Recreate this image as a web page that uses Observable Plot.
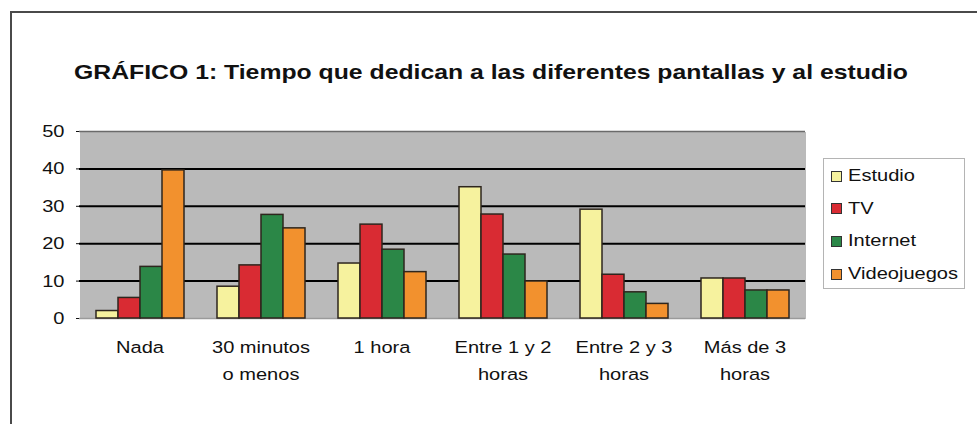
<!DOCTYPE html>
<html>
<head>
<meta charset="utf-8">
<script src="https://cdn.jsdelivr.net/npm/d3@7"></script>
<script src="https://cdn.jsdelivr.net/npm/@observablehq/plot@0.6"></script>
<style>
  html, body { margin: 0; padding: 0; background: #fff; overflow: hidden; }
  body { width: 977px; height: 424px; position: relative; font-family: "Liberation Sans", Arial, sans-serif; }
  #border { position: absolute; left: 10px; top: 11px; width: 1100px; height: 600px;
            border-left: 2px solid #4a4a4a; border-top: 2px solid #4a4a4a; }
  #chart { position: absolute; left: 0; top: 0; }
  #title { position: absolute; left: 491px; top: 72px; white-space: nowrap;
           font: bold 21px "Liberation Sans", Arial, sans-serif; color: #111;
           transform: translate(-50%, -50%) scaleX(1.18); }
  #legend { position: absolute; left: 823px; top: 158px; width: 140px; height: 129px;
            border: 1px solid #b4b4b4; background: #fff; }
  .item { position: absolute; left: 7px; height: 20px; display: flex; align-items: center; }
  .sw { width: 9px; height: 9px; border: 1px solid #333; margin-right: 6px; }
  .lab { font-size: 17px; color: #111; transform: scaleX(1.18); transform-origin: left center; white-space: nowrap; }
</style>
</head>
<body>
<div id="border"></div>
<div id="chart"></div>
<div id="title"></div>
<div id="legend"></div>
<script>
const titleText = "GRÁFICO 1: Tiempo que dedican a las diferentes pantallas y al estudio";
const categories = ["Nada", "30 minutos o menos", "1 hora", "Entre 1 y 2 horas", "Entre 2 y 3 horas", "Más de 3 horas"];
const tickLabels = ["Nada", "30 minutos\no menos", "1 hora", "Entre 1 y 2\nhoras", "Entre 2 y 3\nhoras", "Más de 3\nhoras"];
const series = ["Estudio", "TV", "Internet", "Videojuegos"];
const estudio = [2, 8.5, 14.7, 35.1, 29.1, 10.7];
const tv = [5.5, 14.2, 25.1, 27.8, 11.7, 10.7];
const internet = [13.8, 27.7, 18.4, 17.1, 7, 7.5];
const videojuegos = [39.6, 24.1, 12.4, 9.9, 3.9, 7.5];
const colors = ["#f6f29e", "#d92b33", "#2b8747", "#f2912e"];
const yTicks = [0, 10, 20, 30, 40, 50];
const gridValues = [10, 20, 30, 40];

const valuesBySeries = [estudio, tv, internet, videojuegos];
const rows = [];
categories.forEach((c, i) => {
  series.forEach((s, j) => rows.push({cat: c, series: s, value: valuesBySeries[j][i]}));
});

document.getElementById("title").textContent = titleText;

const legend = document.getElementById("legend");
series.forEach((s, i) => {
  const item = document.createElement("div");
  item.className = "item";
  item.style.top = (7 + i * 32.7) + "px";
  const sw = document.createElement("div");
  sw.className = "sw";
  sw.style.background = colors[i];
  const lab = document.createElement("span");
  lab.className = "lab";
  lab.textContent = s;
  item.appendChild(sw);
  item.appendChild(lab);
  legend.appendChild(item);
});

const plot = Plot.plot({
  width: 977,
  height: 424,
  marginLeft: 77,
  marginRight: 170,
  marginTop: 131,
  marginBottom: 106,
  style: {fontSize: "17px", fontFamily: "'Liberation Sans', Arial, sans-serif", color: "#111", background: "transparent"},
  fx: {domain: categories, padding: 0, label: null},
  x: {domain: series, paddingInner: 0, paddingOuter: 0.7, axis: null},
  y: {domain: [0, 50], label: null},
  color: {domain: series, range: colors},
  marks: [
    Plot.frame({fill: "#bababa", stroke: null, shapeRendering: "crispEdges"}),
    Plot.ruleY(gridValues, {stroke: "#000", strokeWidth: 2}),
    Plot.ruleY([50], {stroke: "#6a6a6a", strokeWidth: 1.5}),
    Plot.ruleY([0], {stroke: "#9a9a9a", strokeWidth: 1.5}),
    Plot.barY(rows, {fx: "cat", x: "series", y: "value", fill: "series", stroke: "#2e261e", strokeWidth: 1.5}),
    Plot.axisY(yTicks, {anchor: "left", tickSize: 3, tickPadding: 12, label: null}),
    Plot.axisFx({anchor: "bottom", tickSize: 0, tickPadding: 15, lineHeight: 1.6, label: null,
                 tickFormat: d => tickLabels[categories.indexOf(d)]})
  ]
});
document.getElementById("chart").appendChild(plot);

// Stretch the axis labels horizontally (about their anchor) to match the reference's wide lettering
plot.querySelectorAll('g[aria-label="fx-axis tick label"] text, g[aria-label="y-axis tick label"] text').forEach(t => {
  const tr = t.getAttribute("transform") || "";
  t.setAttribute("transform", `${tr} scale(1.18,1)`);
});
</script>
</body>
</html>
